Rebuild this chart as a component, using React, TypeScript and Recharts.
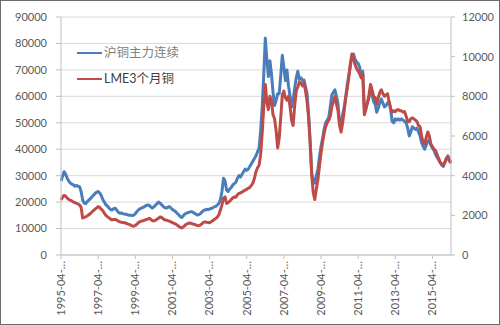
import React from "react";
import {
  LineChart,
  Line,
  XAxis,
  YAxis,
  CartesianGrid,
} from "recharts";

// monthly closes, 1995-04 .. 2016-04
const startYear = 1995;
const startMonth = 4;

// 沪铜主力连续 (CNY/t), left axis
const shfe = [
  28000, 29800, 31500, 30500, 29000, 28000, 27200, 26800, 26500, // 1995
  26000, 26300, 26000, 25800, 24000, 20800, 19600, 19500, 20200, 20800, 21300, 22000, // 1996
  22600, 23200, 23800, 24000, 23500, 22500, 21000, 20000, 19000, 18500, 17800, 17200, // 1997
  17000, 17500, 17700, 17000, 16200, 15800, 15900, 15600, 15500, 15400, 15200, 15000, // 1998
  15000, 14900, 15100, 15600, 16400, 17000, 17500, 17700, 18000, 18300, 18700, 18900, // 1999
  18800, 18200, 17700, 18200, 18800, 19400, 20000, 19600, 19000, 18400, 17900, 17700, // 2000
  18000, 18300, 17800, 17200, 16800, 16400, 15800, 15200, 14600, 14200, 14800, 15500, // 2001
  15800, 16000, 16200, 16400, 16300, 15900, 15500, 15100, 15300, 15600, 16200, 16800, // 2002
  17000, 17300, 17100, 17400, 17600, 17800, 18200, 18400, 18900, 19500, 21000, 24000, // 2003
  29000, 28000, 24500, 24000, 25000, 25500, 26500, 27000, 27500, 29000, 30000, 29500, // 2004
  30500, 31500, 32500, 32000, 32500, 33500, 34500, 35500, 36500, 37500, 39000, 40500, // 2005
  47000, 56000, 68000, 82000, 74000, 67500, 73500, 68500, 61500, 56500, 58500, 61000, // 2006
  61000, 68000, 75500, 71000, 66000, 70000, 64000, 60000, 56000, 59000, 63000, 67000, // 2007
  69500, 66500, 67000, 66000, 66200, 63500, 61000, 53000, 43000, 31000, 28000, 27200, // 2008
  30000, 32500, 37000, 41000, 44000, 47500, 50000, 51000, 52000, 56000, 60500, 61500, // 2009
  62500, 60000, 57000, 50000, 49000, 53000, 56000, 60000, 64500, 68000, 71500, 75500, // 2010
  76000, 74000, 73000, 72500, 71000, 67500, 69500, 55000, 56500, 57500, 59500, 62500, // 2011
  60500, 58000, 57000, 54000, 55500, 57500, 59000, 57500, 56000, 56500, 57500, 58000, // 2012
  55000, 50500, 50000, 51500, 51000, 51500, 51000, 51500, 51000, 50500, 50000, 48000, // 2013
  45000, 46500, 48500, 48000, 47500, 48000, 46500, 45000, 42500, 41000, 40000, 41500, // 2014
  43000, 43500, 41500, 40500, 39500, 38000, 37000, 36000, 35000, 34000, 33500, 35000, // 2015
  36500, 37500, 36000, 35000, // 2016
];

// LME3个月铜 (USD/t), right axis
const lme = [
  2770, 2910, 3010, 2970, 2870, 2800, 2760, 2730, 2670, // 1995
  2640, 2610, 2570, 2520, 2400, 1870, 1890, 1930, 1970, 2030, 2090, 2170, // 1996
  2240, 2310, 2370, 2440, 2400, 2310, 2240, 2110, 2000, 1930, 1870, 1810, // 1997
  1770, 1790, 1800, 1760, 1710, 1670, 1650, 1640, 1630, 1600, 1570, 1550, // 1998
  1510, 1470, 1450, 1490, 1550, 1630, 1680, 1710, 1720, 1760, 1790, 1810, // 1999
  1850, 1800, 1730, 1720, 1750, 1800, 1850, 1920, 1890, 1830, 1770, 1760, // 2000
  1730, 1710, 1670, 1630, 1600, 1560, 1510, 1450, 1400, 1360, 1410, 1490, // 2001
  1550, 1590, 1610, 1600, 1570, 1550, 1520, 1490, 1480, 1510, 1570, 1640, // 2002
  1670, 1650, 1640, 1630, 1680, 1730, 1790, 1840, 1910, 2030, 2270, 2530, // 2003
  2870, 2930, 2600, 2640, 2710, 2800, 2880, 2930, 2910, 3040, 3110, 3130, // 2004
  3170, 3230, 3270, 3310, 3360, 3410, 3510, 3630, 3870, 4200, 4400, 4530, // 2005
  5070, 6130, 7470, 8600, 7730, 7330, 8000, 7800, 7070, 6870, 6270, 5400, // 2006
  5900, 6930, 8070, 8270, 7930, 7800, 8000, 7470, 6800, 6530, 7530, 8270, // 2007
  8470, 8730, 8670, 8530, 8670, 8270, 7730, 6930, 5600, 4000, 3130, 2800, // 2008
  3330, 3800, 4470, 5130, 5670, 6130, 6470, 6670, 6800, 7000, 7470, 7730, // 2009
  8000, 7600, 7270, 6530, 6200, 6670, 7270, 7930, 8400, 9000, 9670, 10130, // 2010
  9930, 9600, 9400, 9270, 9130, 8930, 9130, 7070, 7330, 7670, 8070, 8600, // 2011
  8330, 8000, 7930, 7600, 7930, 8200, 8330, 8130, 8000, 8070, 8130, 7730, // 2012
  7400, 7200, 7270, 7230, 7310, 7330, 7270, 7270, 7200, 7230, 7000, 6730, // 2013
  6720, 6870, 6910, 6870, 6800, 6730, 6530, 6470, 6000, 5670, 5600, 5930, // 2014
  6200, 6000, 5600, 5470, 5330, 5270, 5070, 4870, 4670, 4600, 4530, 4670, // 2015
  4870, 4930, 4730, 4630, // 2016
];

const leftTicks = [0, 10000, 20000, 30000, 40000, 50000, 60000, 70000, 80000, 90000];
const rightTicks = [0, 2000, 4000, 6000, 8000, 10000, 12000];

const seriesNames = ["沪铜主力连续", "LME3个月铜"];
const seriesColors = ["#4a7ebb", "#be4b48"];
const legendTextColors = ["#808080", "#404040"];

const data = shfe.map((v, i) => {
  const total = startMonth - 1 + i;
  const y = startYear + Math.floor(total / 12);
  const m = (total % 12) + 1;
  return {
    month: `${y}-${String(m).padStart(2, "0")}`,
    shfe: v,
    lme: lme[i],
  };
});

const FONT = "Lato, 'Noto Sans CJK SC', sans-serif";
const AXIS_GRAY = "#bfbfbf";

const XTick = (props: any) => {
  const { x, y, payload } = props;
  return (
    <text
      x={x}
      y={y}
      dy="0.35em"
      transform={`rotate(-90, ${x}, ${y})`}
      textAnchor="end"
      fill="#595959"
      fontSize={11}
      fontFamily={FONT}
    >
      {payload.value}-…
    </text>
  );
};

// legend sits inside the plot, top-left
const LegendBox = () => (
  <div
    style={{
      position: "absolute",
      left: 76,
      top: 39,
      fontFamily: FONT,
      pointerEvents: "none",
    }}
  >
    {seriesNames.map((name, i) => (
      <div
        key={name}
        style={{ display: "flex", alignItems: "center", height: 26 }}
      >
        <span
          style={{
            display: "inline-block",
            width: 25,
            height: 2.5,
            background: seriesColors[i],
          }}
        />
        <span
          style={{
            marginLeft: 2,
            fontSize: 12.5,
            lineHeight: "14px",
            color: legendTextColors[i],
            whiteSpace: "nowrap",
          }}
        >
          {name}
        </span>
      </div>
    ))}
  </div>
);

export default function App() {
  return (
    <div
      style={{
        position: "absolute",
        left: 0,
        top: 0,
        width: 500,
        height: 325,
        boxSizing: "border-box",
        border: "1px solid #6b6b6b",
        background: "#fff",
      }}
    >
      <LineChart
        width={498}
        height={323}
        data={data}
        margin={{ top: 16, right: 3, left: 7, bottom: 7 }}
      >
        <CartesianGrid
          yAxisId="left"
          vertical={false}
          stroke="#d9d9d9"
          strokeWidth={1}
        />
        <XAxis
          dataKey="month"
          interval={23}
          tick={<XTick />}
          tickSize={4}
          tickMargin={2}
          height={62}
          stroke={AXIS_GRAY}
          tickLine={{ stroke: AXIS_GRAY }}
        />
        <YAxis
          yAxisId="left"
          domain={[0, 90000]}
          ticks={leftTicks}
          width={53}
          tickSize={5}
          tickMargin={9}
          stroke={AXIS_GRAY}
          tick={{ fill: "#595959", fontSize: 11, fontFamily: FONT }}
        />
        <YAxis
          yAxisId="right"
          orientation="right"
          domain={[0, 12000]}
          ticks={rightTicks}
          width={45}
          tickSize={4}
          tickMargin={7}
          stroke={AXIS_GRAY}
          tick={{
            fill: "#595959",
            fontSize: 11,
            fontFamily: FONT,
            textAnchor: "start",
          }}
        />
        <Line
          yAxisId="left"
          dataKey="shfe"
          name={seriesNames[0]}
          stroke={seriesColors[0]}
          strokeWidth={3}
          strokeLinejoin="round"
          dot={false}
          type="linear"
          isAnimationActive={false}
        />
        <Line
          yAxisId="right"
          dataKey="lme"
          name={seriesNames[1]}
          stroke={seriesColors[1]}
          strokeWidth={3}
          strokeLinejoin="round"
          dot={false}
          type="linear"
          isAnimationActive={false}
        />
      </LineChart>
      <LegendBox />
    </div>
  );
}
